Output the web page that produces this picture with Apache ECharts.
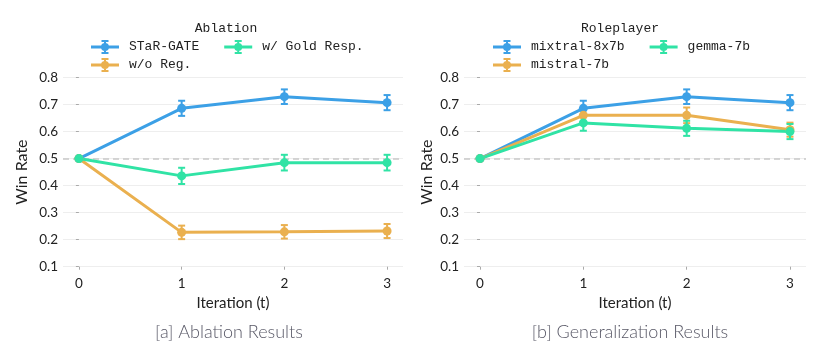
<!DOCTYPE html>
<html>
<head>
<meta charset="utf-8">
<script src="https://cdn.jsdelivr.net/npm/echarts@6/dist/echarts.min.js"></script>
<style>
  html, body { margin: 0; padding: 0; background: #fff; }
  #chart { width: 822px; height: 356px; }
</style>
</head>
<body>
<div id="chart"></div>
<script>
// data
var iterations = [0, 1, 2, 3];
var yTicks = [0.1, 0.2, 0.3, 0.4, 0.5, 0.6, 0.7, 0.8];

var starGate     = [0.5, 0.686, 0.729, 0.707];
var starGateErr  = [0, 0.028, 0.027, 0.028];
var woReg        = [0.5, 0.227, 0.229, 0.232];
var woRegErr     = [0, 0.025, 0.025, 0.026];
var goldResp     = [0.5, 0.436, 0.485, 0.485];
var goldRespErr  = [0, 0.030, 0.029, 0.029];

var mixtral      = [0.5, 0.686, 0.729, 0.707];
var mixtralErr   = [0, 0.028, 0.027, 0.028];
var mistral      = [0.5, 0.660, 0.660, 0.607];
var mistralErr   = [0, 0.026, 0.029, 0.026];
var gemma        = [0.5, 0.632, 0.612, 0.600];
var gemmaErr     = [0, 0.029, 0.028, 0.028];

var BLUE = '#3ca0e6', ORANGE = '#eab04f', GREEN = '#30e3a5';
var SANS = 'Lato';
var MONO = 'Liberation Mono';

// legend glyph: line + errorbar + dot
var legendIcon = 'path://M0,5.5H28V8.5H0Z M13,1H15V13H13Z M10.5,0H17.5V2H10.5Z M10.5,12H17.5V14H10.5Z M18,7A4,4 0 1,1 10,7A4,4 0 1,1 18,7Z';

function pts(vals) {
    return iterations.map(function (x, i) { return [x, vals[i]]; });
}
function errPts(vals, errs) {
    var out = [];
    iterations.forEach(function (x, i) {
        if (errs[i] > 0) out.push([x, vals[i] - errs[i], vals[i] + errs[i]]);
    });
    return out;
}

function lineSeries(name, vals, color, idx, dash) {
    var s = {
        name: name,
        type: 'line',
        xAxisIndex: idx,
        yAxisIndex: idx,
        data: pts(vals),
        symbol: 'circle',
        symbolSize: 9,
        showSymbol: true,
        color: color,
        lineStyle: { width: 3, color: color },
        itemStyle: { color: color, borderWidth: 0 },
        emphasis: { disabled: true },
        z: 3
    };
    if (dash) {
        s.markLine = {
            silent: true,
            symbol: 'none',
            label: { show: false },
            lineStyle: { color: '#c9c9c9', type: [6, 4], width: 1.5 },
            data: [{ yAxis: 0.5 }],
            z: 1
        };
    }
    return s;
}

function errSeries(name, vals, errs, color, idx) {
    return {
        name: name,
        type: 'custom',
        xAxisIndex: idx,
        yAxisIndex: idx,
        data: errPts(vals, errs),
        z: 3,
        renderItem: function (params, api) {
            var lo = api.coord([api.value(0), api.value(1)]);
            var hi = api.coord([api.value(0), api.value(2)]);
            var w = 3.5;
            var st = { stroke: color, lineWidth: 2 };
            return {
                type: 'group',
                children: [
                    { type: 'line', shape: { x1: lo[0], y1: lo[1], x2: hi[0], y2: hi[1] }, style: st },
                    { type: 'line', shape: { x1: lo[0] - w, y1: lo[1], x2: lo[0] + w, y2: lo[1] }, style: st },
                    { type: 'line', shape: { x1: hi[0] - w, y1: hi[1], x2: hi[0] + w, y2: hi[1] }, style: st }
                ]
            };
        }
    };
}

function xAxis(idx) {
    return {
        type: 'value',
        gridIndex: idx,
        min: -0.155,
        max: 3.155,
        name: 'Iteration (t)',
        nameLocation: 'middle',
        nameGap: 24,
        nameTextStyle: { fontFamily: SANS, fontSize: 15, color: '#222' },
        axisLine: { show: false },
        axisTick: { show: true, customValues: iterations, length: 3, lineStyle: { color: '#aaa' } },
        axisLabel: { customValues: iterations, margin: 10, fontFamily: SANS, fontSize: 13.5, color: '#222' },
        splitLine: { show: false }
    };
}

function yAxis(idx, gap) {
    return {
        type: 'value',
        gridIndex: idx,
        min: 0.1,
        max: 0.8,
        interval: 0.1,
        name: 'Win Rate',
        nameLocation: 'middle',
        nameGap: gap,
        nameTextStyle: { fontFamily: SANS, fontSize: 16, color: '#222' },
        axisLine: { show: false },
        axisTick: { show: true, length: 3, lineStyle: { color: '#aaa' } },
        axisLabel: {
            margin: 5, fontFamily: SANS, fontSize: 13.5, color: '#222',
            formatter: function (v) { return v.toFixed(1); }
        },
        splitLine: { show: true, lineStyle: { color: '#eeeeee', width: 1 } }
    };
}

function legend(names, left, top) {
    return {
        data: names,
        left: left,
        top: top,
        orient: 'horizontal',
        icon: legendIcon,
        itemWidth: 28,
        itemHeight: 14,
        itemGap: 25,
        padding: 0,
        selectedMode: false,
        itemStyle: { borderWidth: 0 },
        textStyle: { fontFamily: MONO, fontSize: 13, color: '#222', padding: [0, 0, 0, 5] }
    };
}

var chart = echarts.init(document.getElementById('chart'), null, { renderer: 'canvas' });

chart.setOption({
    backgroundColor: '#fff',
    animation: false,
    title: [
        { text: 'Ablation', left: 226, top: 22, padding: 0, textAlign: 'center',
          textStyle: { fontFamily: MONO, fontSize: 13, fontWeight: 'normal', color: '#222' } },
        { text: 'Roleplayer', left: 620, top: 22, padding: 0, textAlign: 'center',
          textStyle: { fontFamily: MONO, fontSize: 13, fontWeight: 'normal', color: '#222' } },
        { text: '[a] Ablation Results', left: 229, top: 323, padding: 0, textAlign: 'center',
          textStyle: { fontFamily: SANS, fontSize: 18, fontWeight: 300, color: '#585866' } },
        { text: '[b] Generalization Results', left: 630, top: 323, padding: 0, textAlign: 'center',
          textStyle: { fontFamily: SANS, fontSize: 18, fontWeight: 300, color: '#585866' } }
    ],
    legend: [
        legend(['STaR-GATE', 'w/ Gold Resp.'], 91, 40),
        legend(['w/o Reg.'], 91, 58),
        legend(['mixtral-8x7b', 'gemma-7b'], 493, 40),
        legend(['mistral-7b'], 493, 58)
    ],
    grid: [
        { left: 63, right: 419, top: 77.5, bottom: 89.3 },
        { left: 464, right: 16, top: 77.5, bottom: 89.3 }
    ],
    xAxis: [xAxis(0), xAxis(1)],
    yAxis: [yAxis(0, 33), yAxis(1, 29)],
    series: [
        lineSeries('STaR-GATE', starGate, BLUE, 0, true),
        errSeries('STaR-GATE', starGate, starGateErr, BLUE, 0),
        lineSeries('w/o Reg.', woReg, ORANGE, 0),
        errSeries('w/o Reg.', woReg, woRegErr, ORANGE, 0),
        lineSeries('w/ Gold Resp.', goldResp, GREEN, 0),
        errSeries('w/ Gold Resp.', goldResp, goldRespErr, GREEN, 0),

        lineSeries('mixtral-8x7b', mixtral, BLUE, 1, true),
        errSeries('mixtral-8x7b', mixtral, mixtralErr, BLUE, 1),
        lineSeries('mistral-7b', mistral, ORANGE, 1),
        errSeries('mistral-7b', mistral, mistralErr, ORANGE, 1),
        lineSeries('gemma-7b', gemma, GREEN, 1),
        errSeries('gemma-7b', gemma, gemmaErr, GREEN, 1)
    ]
});
</script>
</body>
</html>
